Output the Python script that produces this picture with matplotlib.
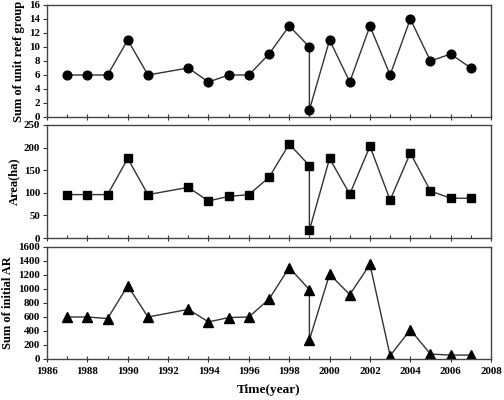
import matplotlib
matplotlib.use("Agg")
import matplotlib.pyplot as plt
from matplotlib.ticker import MultipleLocator

years = [1987, 1988, 1989, 1990, 1991, 1993, 1994, 1995, 1996, 1997, 1998,
         1999, 1999, 2000, 2001, 2002, 2003, 2004, 2005, 2006, 2007]
reef_groups = [6, 6, 6, 11, 6, 7, 5, 6, 6, 9, 13, 10, 1, 11, 5, 13, 6, 14, 8, 9, 7]
area_ha = [96, 96, 96, 176, 96, 112, 82, 92, 96, 134, 208, 160, 17, 176, 97, 203,
           84, 188, 104, 88, 88]
initial_ar = [600, 600, 578, 1047, 600, 709, 530, 592, 600, 855, 1306, 991, 272,
              1212, 920, 1352, 47, 418, 70, 56, 56]

ylabels = ["Sum of unit reef group", "Area(ha)", "Sum of initial AR"]
ylims = [(0, 16, 2), (0, 250, 50), (0, 1600, 200)]
markers = ["o", "s", "^"]
series = [reef_groups, area_ha, initial_ar]

plt.rcParams["font.family"] = ["Liberation Serif", "DejaVu Serif"]
plt.rcParams["font.weight"] = "bold"

fig = plt.figure(figsize=(5.04, 4.0), dpi=100)
boxes = [
    [0.0933, 0.7075, 0.881, 0.28],
    [0.0933, 0.405, 0.881, 0.2825],
    [0.0933, 0.1025, 0.881, 0.28],
]
msizes = [6.3, 6.0, 6.5]
for i in range(3):
    ax = fig.add_axes(boxes[i])
    ax.plot(years, series[i], color="#333333", lw=1.0, marker=markers[i],
            markersize=msizes[i], markerfacecolor="black", markeredgecolor="black")
    ax.set_xlim(1986, 2008)
    lo, hi, st = ylims[i]
    ax.set_ylim(lo, hi)
    ax.yaxis.set_major_locator(MultipleLocator(st))
    ax.xaxis.set_major_locator(MultipleLocator(2))
    ax.xaxis.set_minor_locator(MultipleLocator(1))
    ax.tick_params(axis="x", which="major", direction="inout", length=4, width=0.8,
                   labelsize=7.8, colors="#333333", labelcolor="black")
    ax.tick_params(axis="x", which="minor", direction="in", length=2.5, width=0.8,
                   colors="#333333")
    ax.tick_params(axis="y", which="major", direction="out", length=3, width=0.8,
                   labelsize=7.8, colors="#333333", labelcolor="black", pad=2)
    for lab in ax.get_xticklabels() + ax.get_yticklabels():
        lab.set_fontweight("bold")
    for sp in ax.spines.values():
        sp.set_color("#444444")
        sp.set_linewidth(1.0)
    ax.set_ylabel(ylabels[i], fontsize=9, fontweight="bold", labelpad=3)
    if i < 2:
        ax.tick_params(axis="x", labelbottom=False)
    else:
        ax.set_xlabel("Time(year)", fontsize=9.5, fontweight="bold", labelpad=6)

fig.savefig("out.png", dpi=100)
